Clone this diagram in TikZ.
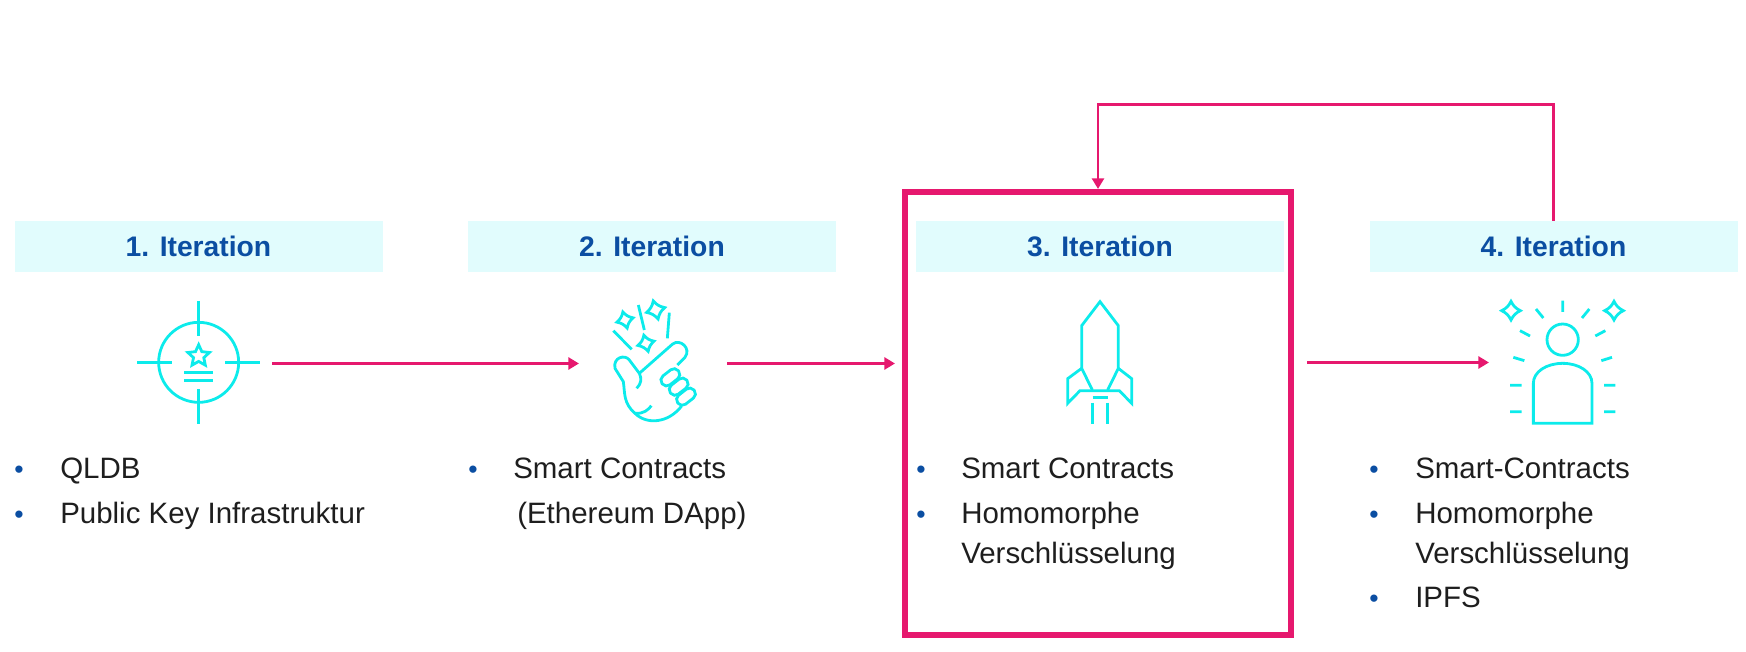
\documentclass[tikz,border=0pt]{standalone}
\usepackage{xcolor}
\usepackage{fontspec}
\setmainfont{Liberation Sans}
\usetikzlibrary{arrows.meta,shapes.geometric}
\definecolor{iconcyan}{HTML}{0CEBEB}
\definecolor{barcyan}{HTML}{E1FCFD}
\definecolor{headblue}{HTML}{0B4EA2}
\definecolor{linkpink}{HTML}{E6186E}
\definecolor{itemblack}{HTML}{1E1E1E}
\tikzset{
    head/.style={fill=barcyan,text=headblue,minimum width=276pt,minimum height=38.5pt,
        inner sep=0pt,font=\fontsize{21.2}{24}\selectfont\bfseries},
    item/.style={anchor=base west,inner sep=0pt,text=itemblack,font=\fontsize{22.1}{26}\selectfont},
    dot/.style={anchor=base,inner sep=0pt,text=headblue,font=\fontsize{20}{26}\selectfont},
    link/.style={draw=linkpink,line width=2.2pt,-{Triangle[length=8pt,width=9pt]}},
    icon/.style={draw=iconcyan,line width=2.1pt},
    zoomed/.style={x=.25pt,y=-.25pt},
    sparkle/.pic={\draw [icon,miter limit=10] (0,-1) .. controls (.25,-.5) and (.5,-.25) .. (1,0)
        .. controls (.5,.25) and (.25,.5) .. (0,1)
        .. controls (-.25,.5) and (-.5,.25) .. (-1,0)
        .. controls (-.5,-.25) and (-.25,-.5) .. (0,-1) -- cycle;},
    knuckle/.pic={\draw [icon,rounded corners=4pt] (-31,-17) rectangle (31,17);}
}
\begin{document}
\begin{tikzpicture}[x=.75pt,y=-.75pt]
\useasboundingbox (0,0) rectangle (1746,652);

\path
    (198.5,246.5) node [head] (head1) {1. Iteration}
    (652,246.5) node [head] (head2) {2. Iteration}
    (1100,246.5) node [head] (head3) {3. Iteration}
    (1553.5,246.5) node [head] (head4) {4. Iteration};
\node [draw=linkpink,line width=4.8pt,minimum width=289.5pt,minimum height=332pt,inner sep=0pt]
    (focus) at (1098,413.5) {};

\path
    (19,478) node [dot] (dot11) {•}
    (60,478) node [item] (item11) {QLDB}
    (19,523) node [dot] (dot12) {•}
    (60,523) node [item] (item12) {Public Key Infrastruktur};
\path
    (473,478) node [dot] (dot21) {•}
    (513,478) node [item] (item21) {Smart Contracts}
    (517,523) node [item] (item22) {(Ethereum DApp)};
\path
    (921,478) node [dot] (dot31) {•}
    (961,478) node [item] (item31) {Smart Contracts}
    (921,523) node [dot] (dot32) {•}
    (961,523) node [item] (item32) {Homomorphe}
    (961,563) node [item] (item33) {Verschlüsselung};
\path
    (1374,478) node [dot] (dot41) {•}
    (1415,478) node [item] (item41) {Smart-Contracts}
    (1374,523) node [dot] (dot42) {•}
    (1415,523) node [item] (item42) {Homomorphe}
    (1415,563) node [item] (item43) {Verschlüsselung}
    (1374,607) node [dot] (dot44) {•}
    (1415,607) node [item] (item44) {IPFS};

\begin{scope}[shift={(100,280)},zoomed]
\draw [icon] (296,247) circle [radius=120];
\draw [icon] (296,63) -- (296,168) (296,328) -- (296,432);
\draw [icon] (112,247) -- (216,247) (376,247) -- (480,247);
\draw [icon] (253,277) -- (340,277) (253,302) -- (340,302);
\node [icon,star,star points=5,star point ratio=2.1,minimum size=17pt,inner sep=0pt]
    (mark) at (296,228) {};
\end{scope}

\begin{scope}[shift={(590,280)},zoomed]
\draw [icon,line join=round] (140,325) .. controls (155,310) and (155,295) .. (148,280)
    -- (118,240) .. controls (105,222) and (68,232) .. (75,265)
    -- (100,305) .. controls (105,340) and (100,370) .. (135,400)
    .. controls (170,435) and (235,430) .. (275,378);
\draw [icon,line join=round] (148,280) -- (248,192) .. controls (270,175) and (305,205) .. (285,232) -- (262,255);
\draw [icon] (135,400) .. controls (160,402) and (175,390) .. (184,377);
\pic [rotate=38] at (241,292) {knuckle};
\pic [rotate=38] at (266,320) {knuckle};
\pic [rotate=38] at (288,350) {knuckle};
\draw [icon] (70,152) -- (125,208) (145,75) -- (163,150) (238,98) -- (232,175);
\pic [scale=25,rotate=15] at (105,120) {sparkle};
\pic [scale=28,rotate=15] at (197,90) {sparkle};
\pic [scale=25,rotate=15] at (168,190) {sparkle};
\end{scope}

\begin{scope}[shift={(1040,280)},zoomed]
\draw [icon] (157,330) -- (125,265) -- (125,137) -- (180,65) -- (235,137) -- (235,265) -- (203,330);
\draw [icon] (125,265) -- (83,296) -- (83,370) -- (120,332) -- (238,332) -- (275,370) -- (275,296) -- (235,265);
\draw [icon] (158,352) -- (203,352) (157,368) -- (157,432) (202,368) -- (202,432);
\end{scope}

\begin{scope}[shift={(1480,280)},zoomed]
\draw [icon] (248,179) circle [radius=47];
\draw [icon] (160,430) -- (160,310) .. controls (160,275) and (200,250) .. (248,250)
    .. controls (296,250) and (336,275) .. (336,310) -- (336,430) -- cycle;
\draw [icon] (248,62) -- (248,96) (168,87) -- (190,114) (328,87) -- (306,114)
    (120,152) -- (150,168) (376,152) -- (346,168) (100,232) -- (133,242) (396,232) -- (364,242)
    (90,316) -- (125,316) (372,316) -- (406,316) (90,395) -- (125,395) (372,395) -- (406,395);
\pic [scale=28] at (93,92) {sparkle};
\pic [scale=28] at (402,92) {sparkle};
\end{scope}

\path
    (272,363.5) coordinate (start1)
    (579,363.5) coordinate (end1)
    (727,363.5) coordinate (start2)
    (895,363.5) coordinate (end2)
    (1307,362.5) coordinate (start3)
    (1489,362.5) coordinate (end3)
    (1300,104.5) coordinate (bend);
\draw [link] (start1) -- (end1);
\draw [link] (start2) -- (end2);
\draw [link] (start3) -- (end3);
\draw [link] (head4.north) |- (bend) -| (focus.north);
\end{tikzpicture}
\end{document}
